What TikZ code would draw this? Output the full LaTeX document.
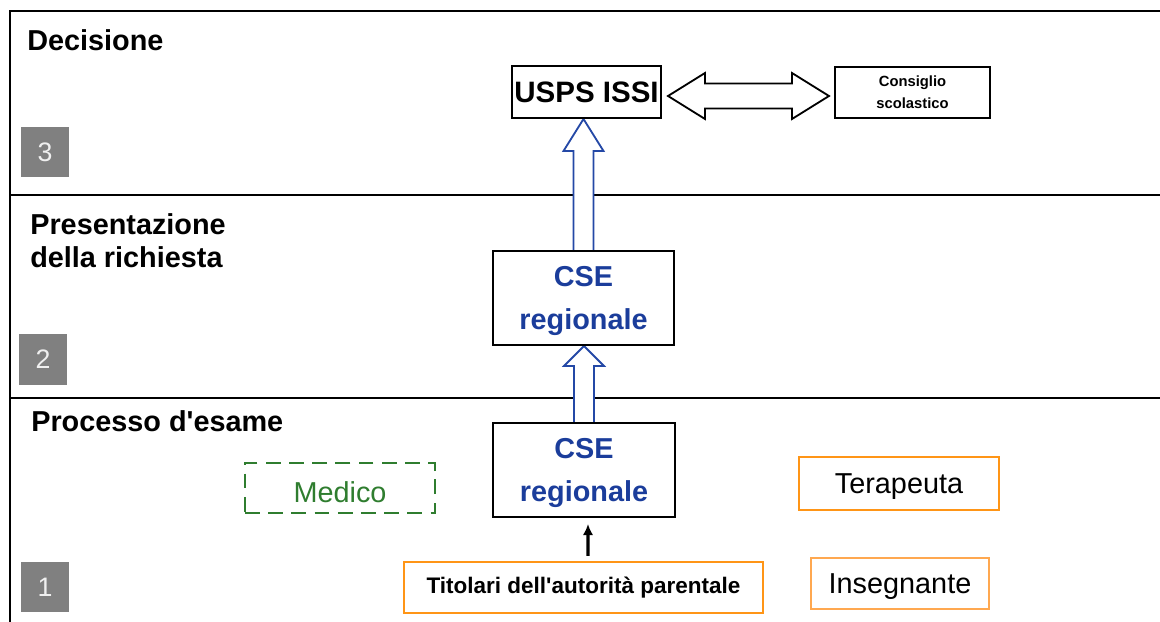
\documentclass[tikz,border=0pt]{standalone}
\usepackage{fontspec}
\setmainfont{Liberation Sans}
\usepackage{tikz}
\usetikzlibrary{calc,arrows.meta,backgrounds}
\definecolor{cseblue}{HTML}{1B3D9B}
\definecolor{arrblue}{HTML}{2448A6}
\definecolor{medgreen}{HTML}{2F7D2F}
\definecolor{boxorange}{HTML}{FF9516}
\definecolor{lightorange}{HTML}{FFA850}
\definecolor{numgrey}{HTML}{808080}

\begin{document}
\begin{tikzpicture}[x=0.025cm, y=-0.025cm,
  sep/.style={line width=1.6pt},
  box/.style={draw, line width=1.4pt, inner sep=0pt, align=center},
  obox/.style={draw=boxorange, line width=1.6pt, inner sep=0pt},
  cse/.style={minimum width=4.54cm, minimum height=2.35cm, text=cseblue, text depth=0pt,
    font=\fontsize{20.5}{31}\selectfont\bfseries},
  numbox/.style={fill=numgrey, text=white!94!black, minimum width=1.2cm,
    minimum height=1.25cm, inner sep=0pt, font=\fontsize{19}{19}\selectfont},
  title/.style={anchor=north west, inner sep=0pt, align=left,
    font=\fontsize{20.5}{24}\selectfont\bfseries},
  big/.style={font=\fontsize{20.5}{24}\selectfont, text depth=0pt},
  blockarrow/.style={draw=arrblue, fill=white, line width=1.3pt, line join=miter},
]
\useasboundingbox (0,0) rectangle (1160,622);

\node[title] (dec) at (27,29) {Decisione};
\node[title] (pres) at (30,213) {Presentazione\\della richiesta};
\node[title] (proc) at (31,410) {Processo d\textquotesingle esame};

\node[numbox] (n3) at (45,152) {3};
\node[numbox] (n2) at (43,359.5) {2};
\node[numbox] (n1) at (45,587) {1};

\node[box, minimum width=3.725cm, minimum height=1.3cm,
  font=\fontsize{21}{21}\selectfont\bfseries] (usps) at (586.5,92) {USPS ISSI};
\node[box, minimum width=3.875cm, minimum height=1.275cm,
  font=\fontsize{10.5}{15.5}\selectfont\bfseries] (cons) at (912.5,92.5) {Consiglio\\scolastico};
\node[box, cse] (cse2) at (583.5,298) {CSE\\regionale};
\node[box, cse] (cse1) at (584,470) {CSE\\regionale};

\node[draw=medgreen, text=medgreen, line width=1.5pt, dash pattern=on 10.5pt off 6pt,
  inner sep=0pt, minimum width=4.75cm, minimum height=1.25cm, big, text height=21pt] (med) at (340,488) {Medico};
\node[obox, minimum width=8.975cm, minimum height=1.275cm,
  font=\fontsize{16}{16}\selectfont\bfseries] (tit) at (583.5,587.5) {Titolari dell\textquotesingle autorità parentale};
\node[obox, big, minimum width=5cm, minimum height=1.325cm] (ter) at (899,483.5) {Terapeuta};
\node[obox, draw=lightorange, big, minimum width=4.45cm, minimum height=1.275cm] (ins) at (900,583.5) {Insegnante};

\draw[-{Latex[length=8pt,width=7.5pt]}, line width=2.2pt]
  ($(tit.north)+(4.5,-5)$) -- ($(cse1.south)+(4,6)$);

\begin{scope}[on background layer]
% полосы
\draw[sep] (10,622) -- (10,11) -- (1160,11);
\draw[sep] (10,195) -- (1160,195);
\draw[sep] (10,398) -- (1160,398);
% стрелки
\coordinate (t1) at (cse2.north |- usps.south);
\draw[blockarrow] ($(cse2.north)+(-10,0)$) -- ($(t1)+(-10,32)$) -- ($(t1)+(-20,32)$)
  -- (t1) -- ($(t1)+(20,32)$) -- ($(t1)+(10,32)$) -- ($(cse2.north)+(10,0)$);
\coordinate (t2) at (cse1.north |- cse2.south);
\draw[blockarrow] ($(cse1.north)+(-10,0)$) -- ($(t2)+(-10,20)$) -- ($(t2)+(-20,20)$)
  -- (t2) -- ($(t2)+(20,20)$) -- ($(t2)+(10,20)$) -- ($(cse1.north)+(10,0)$);
\coordinate (l) at ($(usps.east)+(6,4)$);
\coordinate (r) at ($(cons.west)+(-5,3.5)$);
\draw[blockarrow, draw=black] (l) -- ($(l)+(37,-23)$) -- ($(l)+(37,-12.5)$)
  -- ($(r)+(-37,-12.5)$) -- ($(r)+(-37,-23)$) -- (r) -- ($(r)+(-37,23)$)
  -- ($(r)+(-37,12.5)$) -- ($(l)+(37,12.5)$) -- ($(l)+(37,23)$) -- cycle;
\end{scope}
\end{tikzpicture}
\end{document}
